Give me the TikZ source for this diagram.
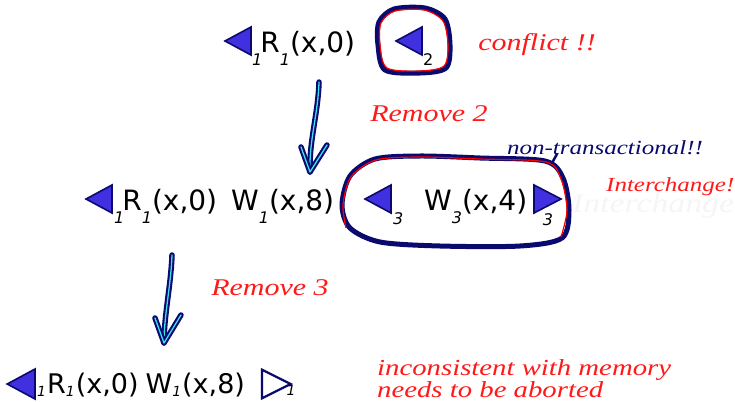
\documentclass[tikz,border=0pt]{standalone}
\usepackage{fontspec}
\setmainfont{DejaVu Sans}
\newfontfamily\hand[FakeStretch=1.25]{Liberation Serif}
\usetikzlibrary{positioning}
\definecolor{navy}{RGB}{10,10,110}
\definecolor{tribl}{RGB}{64,48,224}
\definecolor{redhd}{RGB}{255,25,25}
\definecolor{cyanl}{RGB}{60,225,240}
\tikzset{
  trifill/.style={fill=tribl, draw=navy, line width=1.6pt, line join=miter},
  triL/.pic={\coordinate (-c) at (0,0); \draw[trifill] (0,-14) -- (0,14) -- (-26,0) -- cycle;},
  triR/.pic={\coordinate (-c) at (0,0); \draw[trifill] (0,-14) -- (0,14) -- (27,0) -- cycle;},
  triRo/.pic={\coordinate (-c) at (0,0); \draw[trifill, fill=white, line width=2.2pt] (0,-13) -- (0,13) -- (26,0) -- cycle;},
  optxt/.style={inner sep=0pt, anchor=base west, font=\fontsize{28}{28}\selectfont},
  sub/.style={inner sep=0pt, font=\fontsize{16}{16}\selectfont\itshape},
  hd/.style={inner sep=0pt, text=redhd, font=\hand\itshape\fontsize{24}{24}\selectfont},
  shaft/.style={draw=navy, line width=2.1pt, double=cyanl, double distance=1.3pt, line cap=round, line join=round},
  ring/.style={draw=navy, line width=5pt, line join=round},
  ringred/.style={draw=red, line width=1.2pt},
}
\newcommand{\lo}[1]{\raisebox{-13pt}{\fontsize{16}{16}\selectfont\itshape #1}}
\newcommand{\sbs}[1]{\raisebox{-3pt}{\fontsize{14}{14}\selectfont\itshape #1}}

\begin{document}
\begin{tikzpicture}[x=1pt, y=-1pt]
\useasboundingbox (0,0) rectangle (735,401);
% row 1
\pic (p1) at (251,41) {triL};
\node[optxt] (r1) at (252,53) {\lo{1}\kern-2pt R\lo{1}(x,0)};
\pic (p2) at (422,41) {triL};
\node[sub, anchor=north west] (s2) at (423,53) {\upshape 2};
\draw[ring] plot[smooth cycle] coordinates {(379,22) (394,9) (425,8) (445,19) (450,45) (446,68) (420,73) (385,70) (378,45)};
\draw[ringred] plot[smooth cycle] coordinates {(381,23) (395,11) (424,10) (443,21) (448,45) (444,66) (420,71) (387,68) (380,45)};
\node[hd] (cf) at (537,45) {conflict !!};
% arrow 1
\coordinate (a1s) at (319,82);
\coordinate (a1e) at (310,172);
\draw[shaft] (a1s) .. controls (318,115) and (309,140) .. (a1e);
\draw[shaft] ([shift={(-9,-25)}]a1e) -- (a1e) -- ([shift={(17,-27)}]a1e);
\node[hd] (rm2) at (429,114) {Remove 2};
% row 2
\pic (p4) at (112,199) {triL};
\node[optxt] (r2) at (114,210) {\lo{1}\kern-2pt R\lo{1}(x,0)\hspace{14pt}W\lo{1}(x,8)};
\pic (p3) at (391,199) {triL};
\node[sub, anchor=north west] (s3a) at (393,212) {3};
\node[optxt] (w3) at (424,210) {W\lo{3}(x,4)};
\pic (q3) at (534,199) {triR};
\node[sub, anchor=north] (s3b) at (548,213) {3};
\draw[ring] plot[smooth cycle] coordinates {(342,205) (350,176) (375,159) (420,156) (480,158) (545,161) (563,178) (569,210) (562,238) (520,246) (440,246) (380,242) (350,228)};
\draw[ringred] plot[smooth] coordinates {(346,228) (343,205) (351,177) (376,160) (420,157) (480,159) (546,162) (561,179) (567,210) (561,237)};
\draw[navy, line width=2.5pt, line cap=round] (552,163) -- (557,154);
\node[inner sep=0pt, text=navy, font=\hand\itshape\fontsize{20}{20}\selectfont] (ntx) at (605,148) {non-transactional!!};
\node[hd, font=\hand\itshape\fontsize{20}{20}\selectfont, anchor=west] (ic) at (606,187) {Interchange!};
\node[inner sep=0pt, text=black!4, font=\hand\itshape\fontsize{27}{27}\selectfont, anchor=west] (gh) at (572,206) {Interchange};
% arrow 2
\coordinate (a2s) at (172,255);
\coordinate (a2e) at (164,343);
\draw[shaft] (a2s) .. controls (171,285) and (164,315) .. (a2e);
\draw[shaft] ([shift={(-9,-25)}]a2e) -- (a2e) -- ([shift={(17,-28)}]a2e);
\node[hd] (rm3) at (270,288) {Remove 3};
% row 3
\pic[scale=1.07] (p5) at (35,384) {triL};
\node[optxt, font=\fontsize{27}{27}\selectfont] (r3) at (37,393) {\sbs{1}\kern1pt R\sbs{1}\kern1pt(x,0)\hspace{7pt}W\sbs{1}\kern1pt(x,8)};
\pic[scale=1.1] (q5) at (262,384) {triRo};
\node[sub, font=\fontsize{14}{14}\selectfont\itshape, anchor=north] (s5) at (291,385) {1};
\node[hd, font=\hand\itshape\fontsize{23}{19}\selectfont, align=left, anchor=north west] (inc) at (377,359) {inconsistent with memory\\needs to be aborted};
\end{tikzpicture}
\end{document}
